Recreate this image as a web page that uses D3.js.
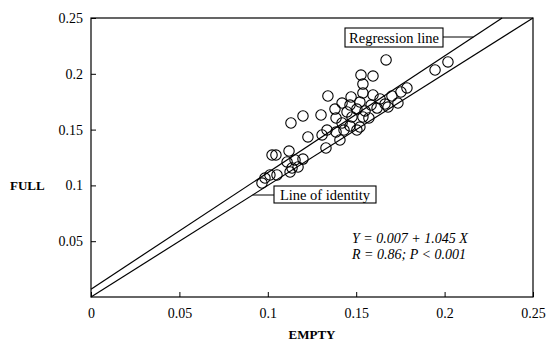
<!DOCTYPE html>
<html>
<head>
<meta charset="utf-8">
<script src="https://cdn.jsdelivr.net/npm/d3@7"></script>
<style>
  html, body { margin: 0; padding: 0; background: #fff; }
  svg text { font-family: "Liberation Serif", "Times New Roman", "DejaVu Serif", serif; }
</style>
</head>
<body>
<svg id="chart" width="557" height="342"></svg>
<script>
// Paired measurements: EMPTY (x) vs FULL (y)
const emptyValues = [
  0.1669, 0.1946, 0.2019, 0.1527, 0.1595, 0.1538, 0.1340, 0.1471, 0.1538, 0.1595,
  0.1635, 0.1702, 0.1753, 0.1787, 0.1736, 0.1521, 0.1584, 0.1663, 0.1465, 0.1504,
  0.1618, 0.1380, 0.1448, 0.1550, 0.1572, 0.1386, 0.1476, 0.1199, 0.1301, 0.1131,
  0.1420, 0.1465, 0.1521, 0.1335, 0.1386, 0.1431, 0.1504, 0.1227, 0.1307, 0.1408,
  0.1329, 0.1120, 0.1199, 0.1024, 0.1046, 0.1109, 0.1154, 0.1137, 0.1171, 0.1126,
  0.1052, 0.1012, 0.0984, 0.0967, 0.1420, 0.1680, 0.1538
];
const fullValues = [
  0.2124, 0.2034, 0.2106, 0.1989, 0.1980, 0.1908, 0.1801, 0.1792, 0.1828, 0.1810,
  0.1774, 0.1801, 0.1837, 0.1873, 0.1738, 0.1747, 0.1720, 0.1729, 0.1720, 0.1684,
  0.1693, 0.1684, 0.1658, 0.1667, 0.1604, 0.1604, 0.1613, 0.1622, 0.1631, 0.1559,
  0.1559, 0.1532, 0.1523, 0.1496, 0.1478, 0.1496, 0.1496, 0.1434, 0.1452, 0.1407,
  0.1335, 0.1308, 0.1236, 0.1272, 0.1272, 0.1210, 0.1228, 0.1156, 0.1165, 0.1120,
  0.1093, 0.1093, 0.1066, 0.1021, 0.1738, 0.1702, 0.1613
];

const xTicks = [0, 0.05, 0.1, 0.15, 0.2, 0.25];
const yTicks = [0.05, 0.1, 0.15, 0.2, 0.25];
const xTickLabels = ["0", "0.05", "0.1", "0.15", "0.2", "0.25"];
const yTickLabels = ["0.05", "0.1", "0.15", "0.2", "0.25"];

// Regression fit: FULL = a + b * EMPTY
const intercept = 0.007;
const slope = 1.045;
const equationLines = ["Y = 0.007 + 1.045 X", "R = 0.86; P < 0.001"];

const FONT = '"Liberation Serif", "Times New Roman", "DejaVu Serif", serif';
const svg = d3.select("#chart");
const margin = { left: 91, right: 24, top: 18, bottom: 45 };
const W = 557, H = 342;
const x = d3.scaleLinear().domain([0, 0.25]).range([margin.left, W - margin.right]);
const y = d3.scaleLinear().domain([0, 0.25]).range([H - margin.bottom, margin.top]);

// Frame
svg.append("rect")
  .attr("x", x(0)).attr("y", y(0.25))
  .attr("width", x(0.25) - x(0)).attr("height", y(0) - y(0.25))
  .attr("fill", "none").attr("stroke", "#000").attr("stroke-width", 1.2);

// Axes with inward ticks
const xAxis = svg.append("g")
  .attr("transform", `translate(0,${y(0)})`)
  .call(d3.axisBottom(x).tickValues(xTicks)
    .tickFormat((d, i) => xTickLabels[i]).tickSize(-5).tickPadding(11));
const yAxis = svg.append("g")
  .attr("transform", `translate(${x(0)},0)`)
  .call(d3.axisLeft(y).tickValues(yTicks)
    .tickFormat((d, i) => yTickLabels[i]).tickSize(-5).tickPadding(8));
[xAxis, yAxis].forEach(g => {
  g.attr("font-family", FONT).attr("font-size", 14);
  g.select(".domain").remove();
  g.selectAll(".tick line").attr("stroke", "#000").attr("stroke-width", 1);
  g.selectAll(".tick text").attr("fill", "#000");
});

// Axis titles
svg.append("text").attr("x", (x(0) + x(0.25)) / 2).attr("y", 339)
  .attr("text-anchor", "middle").attr("font-weight", "bold").attr("font-size", 13)
  .attr("font-family", FONT).text("EMPTY");
svg.append("text").attr("x", 10).attr("y", y(0.1) + 4.5)
  .attr("font-weight", "bold").attr("font-size", 13)
  .attr("font-family", FONT).text("FULL");

// Line of identity and regression line
const lineGen = d3.line().x(d => x(d[0])).y(d => y(d[1]));
svg.append("path")
  .attr("d", lineGen([[0, 0], [0.25, 0.25]]))
  .attr("fill", "none").attr("stroke", "#000").attr("stroke-width", 1.2);
const xTop = (0.25 - intercept) / slope;
svg.append("path")
  .attr("d", lineGen([[0, intercept], [xTop, intercept + slope * xTop]]))
  .attr("fill", "none").attr("stroke", "#000").attr("stroke-width", 1.2);

// Data points
svg.append("g").selectAll("circle")
  .data(emptyValues.map((v, i) => [v, fullValues[i]]))
  .join("circle")
  .attr("cx", d => x(d[0])).attr("cy", d => y(d[1]))
  .attr("r", 5.2)
  .attr("fill", "none").attr("stroke", "#000").attr("stroke-width", 1.1);

// Callout labels
function callout(text, bx, by, bw, bh, lineY, side, lineFn) {
  svg.append("rect").attr("x", bx).attr("y", by).attr("width", bw).attr("height", bh)
    .attr("fill", "#fff").attr("stroke", "#000").attr("stroke-width", 1.1);
  svg.append("text").attr("x", bx + bw / 2).attr("y", by + bh / 2 + 5)
    .attr("text-anchor", "middle").attr("font-size", 14.5)
    .attr("font-family", FONT).text(text);
  const v = y.invert(lineY);
  const tx = x(lineFn(v));
  const sx = side === "right" ? bx + bw : bx;
  svg.append("line").attr("x1", sx).attr("y1", lineY).attr("x2", tx).attr("y2", lineY)
    .attr("stroke", "#000").attr("stroke-width", 1);
}
callout("Regression line", 345, 28, 98, 19, 37, "right", v => (v - intercept) / slope);
callout("Line of identity", 274, 186, 102, 17, 195, "left", v => v);

// Regression equation
const eq = svg.append("text").attr("font-style", "italic").attr("font-size", 14)
  .attr("font-family", FONT);
equationLines.forEach((t, i) => {
  eq.append("tspan").attr("x", 352).attr("y", 243 + i * 16).text(t);
});
</script>
</body>
</html>
